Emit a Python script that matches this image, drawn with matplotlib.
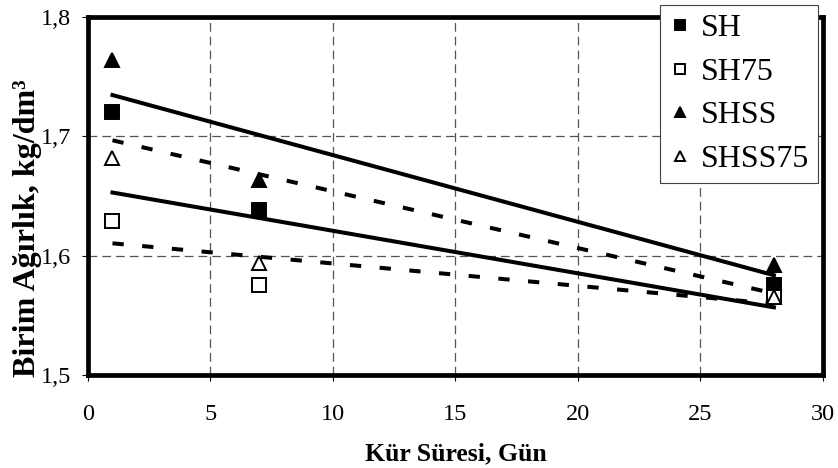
import numpy as np
import matplotlib.pyplot as plt

# veriler
gun = [1, 7, 28]
sh = [1.720, 1.638, 1.575]
sh75 = [1.629, 1.575, 1.565]
shss = [1.764, 1.663, 1.592]
shss75 = [1.682, 1.594, 1.565]

seriler = ['SH', 'SH75', 'SHSS', 'SHSS75']
degerler = [sh, sh75, shss, shss75]
isaretler = ['s', 's', '^', '^']
dolgu = ['black', 'white', 'black', 'white']
trend_stil = ['dash', 'dash', 'solid', 'solid']

xticks = [0, 5, 10, 15, 20, 25, 30]
yticks = [1.5, 1.6, 1.7, 1.8]
ytick_labels = ['1,5', '1,6', '1,7', '1,8']

plt.rcParams['font.family'] = ['Liberation Serif', 'DejaVu Serif']

fig = plt.figure(figsize=(8.38, 4.68), dpi=100)
ax = fig.add_axes([0.105, 0.1987, 0.877, 0.7653])

x = np.array(gun, dtype=float)
xt = np.array([gun[0], gun[-1]], dtype=float)
for ad, y, m, fc, st in zip(seriler, degerler, isaretler, dolgu, trend_stil):
    # dogrusal trend cizgisi
    k = np.polyfit(x, y, 1)
    ls = (0, (2.8, 4.6)) if st == 'dash' else '-'
    ax.plot(xt, np.polyval(k, xt), color='black', lw=2.9, linestyle=ls,
            dash_capstyle='butt', zorder=3)
    ax.plot(x, y, linestyle='none', marker=m, markersize=10.5, markerfacecolor=fc,
            markeredgecolor='black', markeredgewidth=1.4, label=ad, zorder=4)

ax.set_xlim(0, 30)
ax.set_ylim(1.5, 1.8)
ax.set_xticks(xticks)
ax.set_yticks(yticks)
ax.set_yticklabels(ytick_labels)
ax.tick_params(direction='out', length=4, width=0.8, labelsize=17.5, colors='black')
ax.tick_params(axis='x', pad=17)
ax.tick_params(axis='y', pad=8)

ax.grid(True, color='#555555', lw=0.9, linestyle=(0, (7, 4)))
ax.set_axisbelow(True)
for sp in ax.spines.values():
    sp.set_linewidth(3.4)
    sp.set_zorder(5)

ax.set_xlabel('Kür Süresi, Gün', fontsize=18.5, fontweight='bold', labelpad=12)
ax.set_ylabel('Birim Ağırlık, kg/dm³', fontsize=23, fontweight='bold')
ax.yaxis.set_label_coords(-0.063, 0.41)

leg = ax.legend(loc='upper right', bbox_to_anchor=(0.993, 1.034), fontsize=23,
                frameon=True, fancybox=False, edgecolor='#404040', framealpha=1,
                markerscale=0.7, handlelength=0.7, handletextpad=0.3,
                labelspacing=0.45, borderpad=0.28, borderaxespad=0)
leg.get_frame().set_linewidth(0.8)
leg.set_zorder(10)

fig.savefig('out.png', dpi=100)
